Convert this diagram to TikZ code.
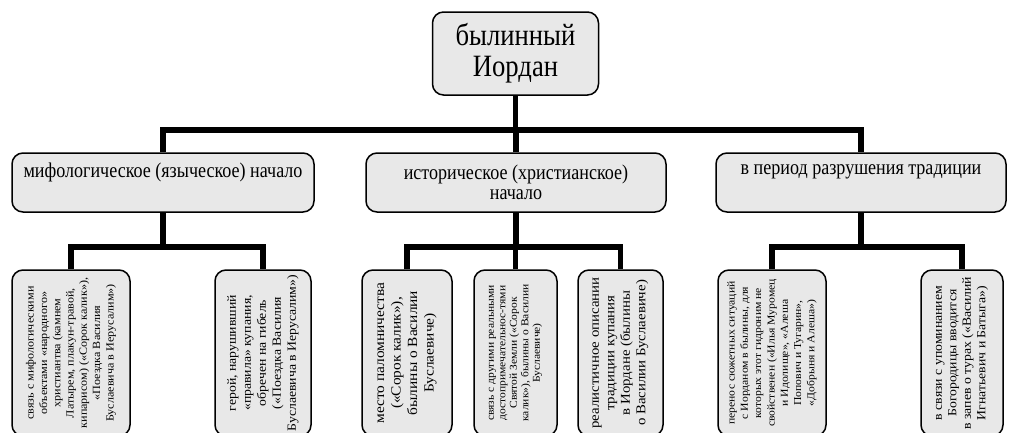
\documentclass[tikz,border=0pt]{standalone}
\usepackage{fontspec}
\setmainfont[FakeStretch=0.86]{Liberation Serif}
\newfontfamily\rotfont[FakeStretch=1.1]{Liberation Serif}
\definecolor{boxgray}{HTML}{E8E8E8}
\tikzset{
  box/.style={draw=black, line width=1.5pt, rounded corners=11pt, fill=boxgray, inner sep=2pt, align=center},
  conn/.style={line width=5.5pt, line join=miter},
  leaf/.style={box, rotate=90, minimum width=166pt},
}
\newcommand{\fs}[2]{\fontsize{#1}{#2}\selectfont}
\newcommand{\rfs}[2]{\rotfont\fontsize{#1}{#2}\selectfont}
\begin{document}
\begin{tikzpicture}[x=1pt,y=-1pt]
\useasboundingbox (0,0) rectangle (1010,432);
\clip (0,0) rectangle (1010,432);
\coordinate (bar) at (0,130);
\coordinate (sub) at (0,247);
% root
\node[box, minimum width=166pt, minimum height=83pt, font=\fs{31}{31}] (root) at (515.5,53.5) {былинный\\Иордан};
% middle level
\node[box, minimum width=302pt, minimum height=59pt, font=\fs{21}{19.5}] (m1) at (163,182.5) {мифологическое (языческое) начало\\\strut};
\node[box, minimum width=300pt, minimum height=59pt, font=\fs{21}{19.5}] (m2) at (516,182.5) {историческое (христианское)\\начало};
\node[box, minimum width=290pt, minimum height=59pt, font=\fs{21}{19.5}] (m3) at (861,182.5) {в период разрушения традиции\\\strut};
% leaves
\node[leaf, minimum height=118pt, font=\rfs{11}{13.3}] (b1) at (71,353) {связь с мифологическими\\объектами «народного»\\христиантва (камнем\\Латырем, плакун-травой,\\кипарисом) («Сорок калик»),\\«Поездка Василия\\Буслаевича в Иерусалим»)};
\node[leaf, minimum height=96pt, font=\rfs{12.5}{15}] (b2) at (263,353) {герой, нарушивший\\«правила» купания,\\обречен на гибель\\(«Поездка Василия\\Буслаевича в Иерусалим»)};
\node[leaf, minimum height=90pt, font=\rfs{14}{16.5}] (b3) at (407,353) {место паломничества\\(«Сорок калик»),\\былины о Василии\\Буслаевиче)};
\node[leaf, minimum height=83pt, font=\rfs{10.5}{11.5}] (b4) at (515.5,353) {связь с другими реальными\\достопримечательнос-тями\\Святой Земли («Сорок\\калик»), былины о Василии\\Буслаевиче)};
\node[leaf, minimum height=85pt, font=\rfs{13.5}{15.5}] (b5) at (620.5,353) {реалистичное описании\\традиции купания\\в Иордане (былины\\о Василии Буслаевиче)};
\node[leaf, minimum height=108pt, font=\rfs{10.6}{13.3}] (b6) at (772,353) {перенос сюжетных ситуаций\\с Иорданом в былины, для\\которых этот гидроним не\\свойственен («Илья Муромец\\и Идолище», «Алеша\\Попович и Тугарин»,\\«Добрыня и Алеша»)};
\node[leaf, minimum height=82pt, font=\rfs{12.5}{14.5}] (b7) at (962,353) {в связи с упоминанием\\Богородицы вводится\\в запев о турах («Василий\\Игнатьевич и Батыга»)};
% connectors top
\draw[conn] (root.south) -- (root.south|-bar);
\draw[conn] (m1.north) -- (m1.north|-bar) -- (m3.north|-bar) -- (m3.north);
\draw[conn] (m2.north) -- (m2.north|-bar);
% connectors bottom
\draw[conn] (m1.south) -- (m1.south|-sub);
\draw[conn] (b1.east) -- (b1.east|-sub) -- (b2.east|-sub) -- (b2.east);
\draw[conn] (m2.south) -- (m2.south|-sub);
\draw[conn] (b3.east) -- (b3.east|-sub) -- (b5.east|-sub) -- (b5.east);
\draw[conn] (b4.east) -- (b4.east|-sub);
\draw[conn] (m3.south) -- (m3.south|-sub);
\draw[conn] (b6.east) -- (b6.east|-sub) -- (b7.east|-sub) -- (b7.east);
\end{tikzpicture}
\end{document}
